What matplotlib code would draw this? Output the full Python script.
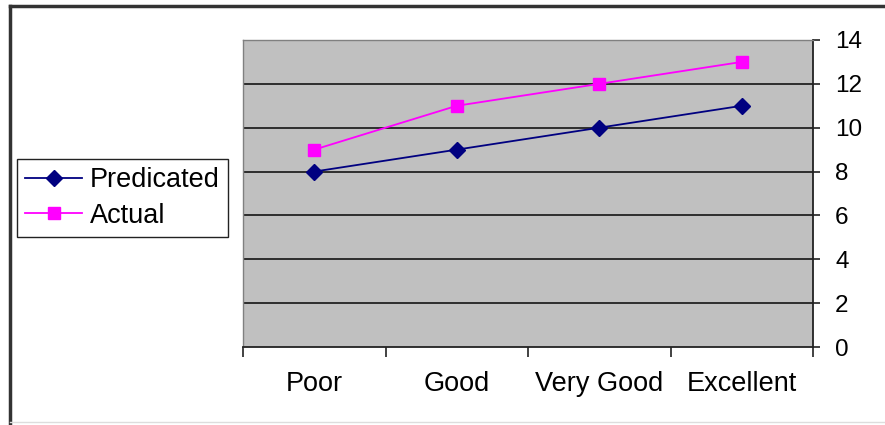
import matplotlib.pyplot as plt
from matplotlib.lines import Line2D

categories = ['Poor', 'Good', 'Very Good', 'Excellent']
predicated = [8, 9, 10, 11]
actual = [9, 11, 12, 13]
y_ticks = [0, 2, 4, 6, 8, 10, 12, 14]

plt.rcParams['font.family'] = ['Liberation Sans', 'DejaVu Sans']

fig = plt.figure(figsize=(8.85, 4.25), dpi=100)
ax = fig.add_axes([243 / 885, 1 - 347 / 425, 570 / 885, 307 / 425])
ax.set_facecolor('#c0c0c0')

x = list(range(len(categories)))
ax.plot(x, predicated, color='#000080', marker='D', markersize=8, lw=1.3, label='Predicated')
ax.plot(x, actual, color='#ff00ff', marker='s', markersize=8, lw=1.3, label='Actual')

ax.set_xlim(-0.5, len(categories) - 0.5)
ax.set_ylim(0, 14)

# category boundaries as ticks, labels centred on the points
ax.set_xticks([i - 0.5 for i in range(len(categories) + 1)])
ax.set_xticklabels([])
ax.set_xticks(x, minor=True)
ax.set_xticklabels(categories, minor=True, fontsize=19.5)
ax.tick_params(axis='x', which='major', direction='out', length=7, width=1.2, color='#222222')
ax.tick_params(axis='x', which='minor', length=0, pad=17.5)

ax.yaxis.tick_right()
ax.set_yticks(y_ticks)
ax.tick_params(axis='y', direction='out', length=5, width=1.2, labelsize=17.5, pad=11, color='#222222')

for v in y_ticks[1:-1]:
    ax.axhline(v, color='#222222', lw=1.3, zorder=1)

for side in ['top', 'left']:
    ax.spines[side].set_color('#808080')
    ax.spines[side].set_linewidth(1)
ax.spines['bottom'].set_color('#222222')
ax.spines['bottom'].set_linewidth(1.3)
ax.spines['right'].set_color('#222222')
ax.spines['right'].set_linewidth(1.3)

fig.legend(loc='upper left', bbox_to_anchor=(17 / 885, 1 - 159 / 425), fontsize=19.5,
           frameon=True, fancybox=False, edgecolor='#222222', framealpha=1,
           handlelength=2.1, borderpad=0.3, labelspacing=0.35, handletextpad=0.3,
           borderaxespad=0)

# outer chart frame
fig.add_artist(Line2D([10 / 885, 10 / 885], [0, 1 - 6 / 425], color='#333333', lw=2.5))
fig.add_artist(Line2D([10 / 885, 1], [1 - 6 / 425, 1 - 6 / 425], color='#333333', lw=2.5))
fig.add_artist(Line2D([10 / 885, 1], [3 / 425, 3 / 425], color='#dddddd', lw=1))

fig.savefig('out.png', dpi=100)
